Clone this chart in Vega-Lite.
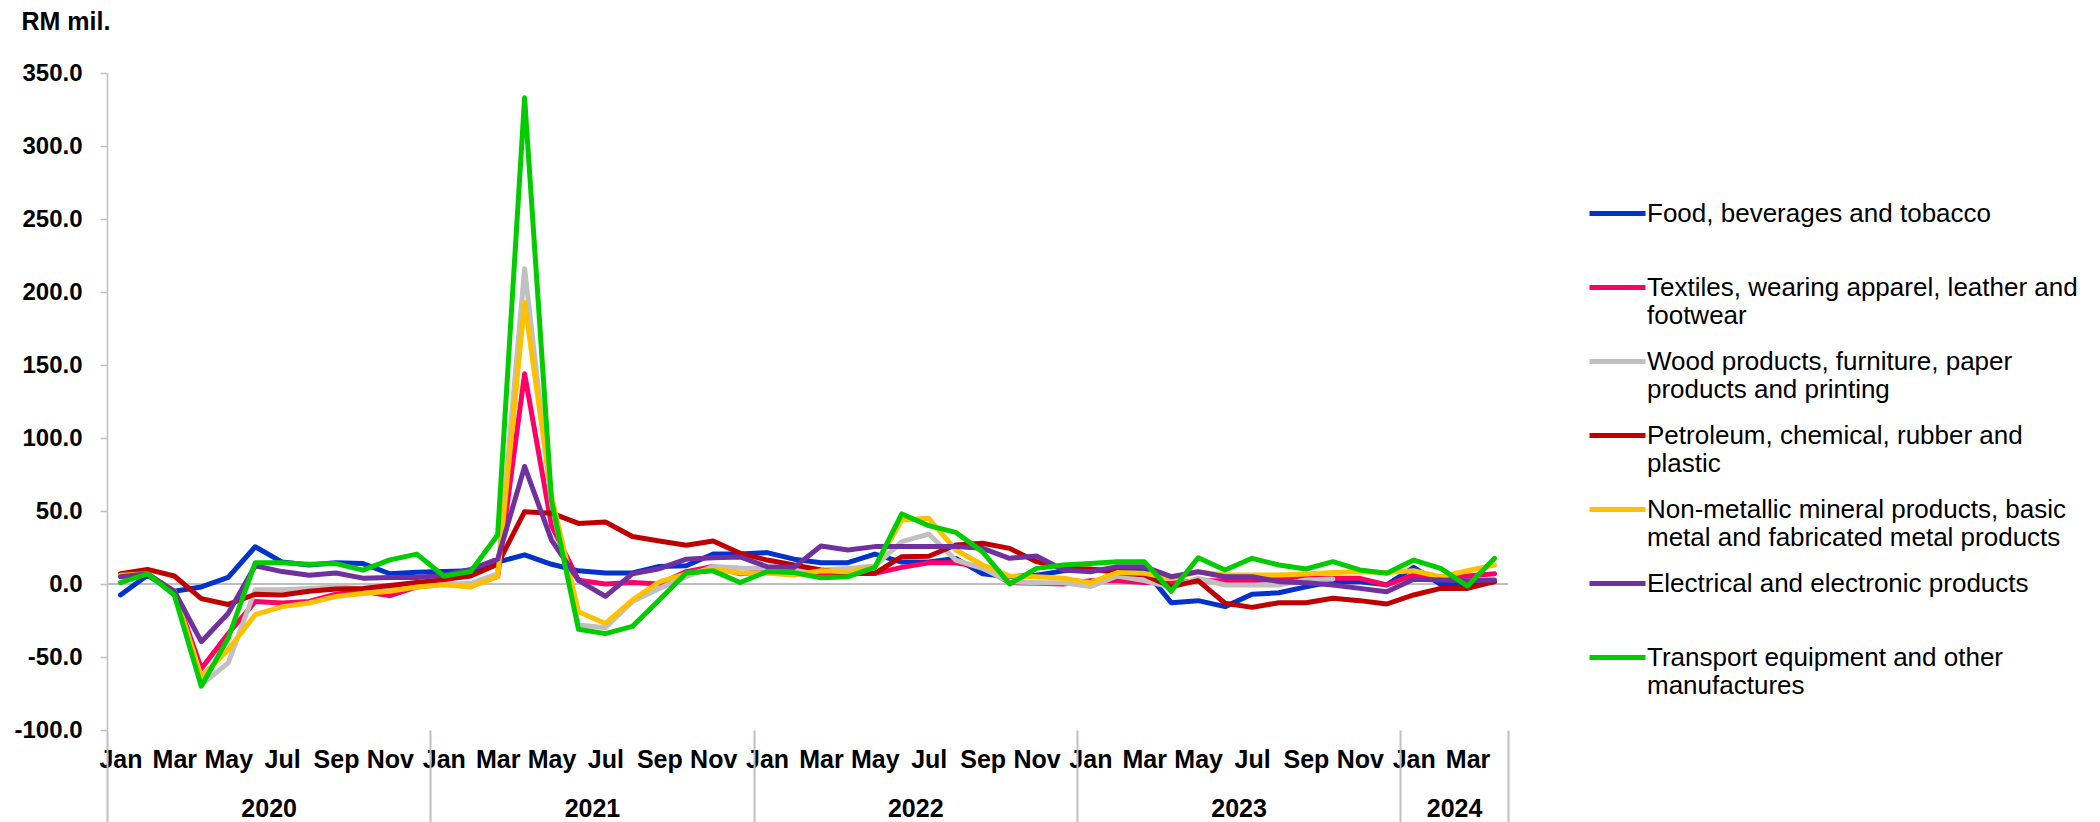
{
  "$schema": "https://vega.github.io/schema/vega-lite/v6.json",
  "width": 1401,
  "height": 657,
  "autosize": {"type": "none"},
  "padding": {"left": 107, "top": 73, "right": 592, "bottom": 92},
  "background": "white",
  "config": {"view": {"stroke": null}, "font": "Liberation Sans"},
  "datasets": {
    "series": [
      {"month":"2020-01","series":"Food, beverages and tobacco","value":-7.5},
      {"month":"2020-02","series":"Food, beverages and tobacco","value":6},
      {"month":"2020-03","series":"Food, beverages and tobacco","value":-5},
      {"month":"2020-04","series":"Food, beverages and tobacco","value":-2},
      {"month":"2020-05","series":"Food, beverages and tobacco","value":4.5},
      {"month":"2020-06","series":"Food, beverages and tobacco","value":25.5},
      {"month":"2020-07","series":"Food, beverages and tobacco","value":15},
      {"month":"2020-08","series":"Food, beverages and tobacco","value":13},
      {"month":"2020-09","series":"Food, beverages and tobacco","value":14.5},
      {"month":"2020-10","series":"Food, beverages and tobacco","value":14},
      {"month":"2020-11","series":"Food, beverages and tobacco","value":7},
      {"month":"2020-12","series":"Food, beverages and tobacco","value":8},
      {"month":"2021-01","series":"Food, beverages and tobacco","value":8.5},
      {"month":"2021-02","series":"Food, beverages and tobacco","value":9},
      {"month":"2021-03","series":"Food, beverages and tobacco","value":15},
      {"month":"2021-04","series":"Food, beverages and tobacco","value":20},
      {"month":"2021-05","series":"Food, beverages and tobacco","value":13.5},
      {"month":"2021-06","series":"Food, beverages and tobacco","value":9},
      {"month":"2021-07","series":"Food, beverages and tobacco","value":7.5},
      {"month":"2021-08","series":"Food, beverages and tobacco","value":7.5},
      {"month":"2021-09","series":"Food, beverages and tobacco","value":12},
      {"month":"2021-10","series":"Food, beverages and tobacco","value":12.5},
      {"month":"2021-11","series":"Food, beverages and tobacco","value":20.5},
      {"month":"2021-12","series":"Food, beverages and tobacco","value":20.5},
      {"month":"2022-01","series":"Food, beverages and tobacco","value":21.5},
      {"month":"2022-02","series":"Food, beverages and tobacco","value":17},
      {"month":"2022-03","series":"Food, beverages and tobacco","value":14.6},
      {"month":"2022-04","series":"Food, beverages and tobacco","value":14.6},
      {"month":"2022-05","series":"Food, beverages and tobacco","value":20.5},
      {"month":"2022-06","series":"Food, beverages and tobacco","value":15},
      {"month":"2022-07","series":"Food, beverages and tobacco","value":15},
      {"month":"2022-08","series":"Food, beverages and tobacco","value":17.5},
      {"month":"2022-09","series":"Food, beverages and tobacco","value":7},
      {"month":"2022-10","series":"Food, beverages and tobacco","value":5},
      {"month":"2022-11","series":"Food, beverages and tobacco","value":6},
      {"month":"2022-12","series":"Food, beverages and tobacco","value":9},
      {"month":"2023-01","series":"Food, beverages and tobacco","value":10},
      {"month":"2023-02","series":"Food, beverages and tobacco","value":9},
      {"month":"2023-03","series":"Food, beverages and tobacco","value":10},
      {"month":"2023-04","series":"Food, beverages and tobacco","value":-12.8},
      {"month":"2023-05","series":"Food, beverages and tobacco","value":-11.4},
      {"month":"2023-06","series":"Food, beverages and tobacco","value":-15.5},
      {"month":"2023-07","series":"Food, beverages and tobacco","value":-7},
      {"month":"2023-08","series":"Food, beverages and tobacco","value":-6},
      {"month":"2023-09","series":"Food, beverages and tobacco","value":-2},
      {"month":"2023-10","series":"Food, beverages and tobacco","value":1.6},
      {"month":"2023-11","series":"Food, beverages and tobacco","value":1.6},
      {"month":"2023-12","series":"Food, beverages and tobacco","value":-0.5},
      {"month":"2024-01","series":"Food, beverages and tobacco","value":11.4},
      {"month":"2024-02","series":"Food, beverages and tobacco","value":-0.3},
      {"month":"2024-03","series":"Food, beverages and tobacco","value":0.5},
      {"month":"2024-04","series":"Food, beverages and tobacco","value":1.6},

      {"month":"2020-01","series":"Textiles, wearing apparel, leather and footwear","value":6},
      {"month":"2020-02","series":"Textiles, wearing apparel, leather and footwear","value":7},
      {"month":"2020-03","series":"Textiles, wearing apparel, leather and footwear","value":-5},
      {"month":"2020-04","series":"Textiles, wearing apparel, leather and footwear","value":-58},
      {"month":"2020-05","series":"Textiles, wearing apparel, leather and footwear","value":-34},
      {"month":"2020-06","series":"Textiles, wearing apparel, leather and footwear","value":-12},
      {"month":"2020-07","series":"Textiles, wearing apparel, leather and footwear","value":-13},
      {"month":"2020-08","series":"Textiles, wearing apparel, leather and footwear","value":-12},
      {"month":"2020-09","series":"Textiles, wearing apparel, leather and footwear","value":-7},
      {"month":"2020-10","series":"Textiles, wearing apparel, leather and footwear","value":-5},
      {"month":"2020-11","series":"Textiles, wearing apparel, leather and footwear","value":-8},
      {"month":"2020-12","series":"Textiles, wearing apparel, leather and footwear","value":-2},
      {"month":"2021-01","series":"Textiles, wearing apparel, leather and footwear","value":0},
      {"month":"2021-02","series":"Textiles, wearing apparel, leather and footwear","value":-0.5},
      {"month":"2021-03","series":"Textiles, wearing apparel, leather and footwear","value":5},
      {"month":"2021-04","series":"Textiles, wearing apparel, leather and footwear","value":144},
      {"month":"2021-05","series":"Textiles, wearing apparel, leather and footwear","value":40},
      {"month":"2021-06","series":"Textiles, wearing apparel, leather and footwear","value":2.5},
      {"month":"2021-07","series":"Textiles, wearing apparel, leather and footwear","value":0},
      {"month":"2021-08","series":"Textiles, wearing apparel, leather and footwear","value":1},
      {"month":"2021-09","series":"Textiles, wearing apparel, leather and footwear","value":0},
      {"month":"2021-10","series":"Textiles, wearing apparel, leather and footwear","value":8.5},
      {"month":"2021-11","series":"Textiles, wearing apparel, leather and footwear","value":12},
      {"month":"2021-12","series":"Textiles, wearing apparel, leather and footwear","value":7},
      {"month":"2022-01","series":"Textiles, wearing apparel, leather and footwear","value":8.5},
      {"month":"2022-02","series":"Textiles, wearing apparel, leather and footwear","value":7.8},
      {"month":"2022-03","series":"Textiles, wearing apparel, leather and footwear","value":7.3},
      {"month":"2022-04","series":"Textiles, wearing apparel, leather and footwear","value":7},
      {"month":"2022-05","series":"Textiles, wearing apparel, leather and footwear","value":7.3},
      {"month":"2022-06","series":"Textiles, wearing apparel, leather and footwear","value":11.4},
      {"month":"2022-07","series":"Textiles, wearing apparel, leather and footwear","value":14.6},
      {"month":"2022-08","series":"Textiles, wearing apparel, leather and footwear","value":14.6},
      {"month":"2022-09","series":"Textiles, wearing apparel, leather and footwear","value":11.4},
      {"month":"2022-10","series":"Textiles, wearing apparel, leather and footwear","value":1},
      {"month":"2022-11","series":"Textiles, wearing apparel, leather and footwear","value":0.5},
      {"month":"2022-12","series":"Textiles, wearing apparel, leather and footwear","value":0},
      {"month":"2023-01","series":"Textiles, wearing apparel, leather and footwear","value":2.3},
      {"month":"2023-02","series":"Textiles, wearing apparel, leather and footwear","value":2.3},
      {"month":"2023-03","series":"Textiles, wearing apparel, leather and footwear","value":1},
      {"month":"2023-04","series":"Textiles, wearing apparel, leather and footwear","value":0.5},
      {"month":"2023-05","series":"Textiles, wearing apparel, leather and footwear","value":2.3},
      {"month":"2023-06","series":"Textiles, wearing apparel, leather and footwear","value":2.3},
      {"month":"2023-07","series":"Textiles, wearing apparel, leather and footwear","value":2.3},
      {"month":"2023-08","series":"Textiles, wearing apparel, leather and footwear","value":3.2},
      {"month":"2023-09","series":"Textiles, wearing apparel, leather and footwear","value":3.9},
      {"month":"2023-10","series":"Textiles, wearing apparel, leather and footwear","value":3.9},
      {"month":"2023-11","series":"Textiles, wearing apparel, leather and footwear","value":3.9},
      {"month":"2023-12","series":"Textiles, wearing apparel, leather and footwear","value":-0.7},
      {"month":"2024-01","series":"Textiles, wearing apparel, leather and footwear","value":6.2},
      {"month":"2024-02","series":"Textiles, wearing apparel, leather and footwear","value":3.9},
      {"month":"2024-03","series":"Textiles, wearing apparel, leather and footwear","value":5.5},
      {"month":"2024-04","series":"Textiles, wearing apparel, leather and footwear","value":7},

      {"month":"2020-01","series":"Wood products, furniture, paper products and printing","value":5.5},
      {"month":"2020-02","series":"Wood products, furniture, paper products and printing","value":7},
      {"month":"2020-03","series":"Wood products, furniture, paper products and printing","value":-5},
      {"month":"2020-04","series":"Wood products, furniture, paper products and printing","value":-69},
      {"month":"2020-05","series":"Wood products, furniture, paper products and printing","value":-54},
      {"month":"2020-06","series":"Wood products, furniture, paper products and printing","value":-4},
      {"month":"2020-07","series":"Wood products, furniture, paper products and printing","value":-4},
      {"month":"2020-08","series":"Wood products, furniture, paper products and printing","value":-3},
      {"month":"2020-09","series":"Wood products, furniture, paper products and printing","value":-2},
      {"month":"2020-10","series":"Wood products, furniture, paper products and printing","value":-3},
      {"month":"2020-11","series":"Wood products, furniture, paper products and printing","value":-2},
      {"month":"2020-12","series":"Wood products, furniture, paper products and printing","value":-1},
      {"month":"2021-01","series":"Wood products, furniture, paper products and printing","value":-0.5},
      {"month":"2021-02","series":"Wood products, furniture, paper products and printing","value":0.5},
      {"month":"2021-03","series":"Wood products, furniture, paper products and printing","value":7},
      {"month":"2021-04","series":"Wood products, furniture, paper products and printing","value":216},
      {"month":"2021-05","series":"Wood products, furniture, paper products and printing","value":55},
      {"month":"2021-06","series":"Wood products, furniture, paper products and printing","value":-28},
      {"month":"2021-07","series":"Wood products, furniture, paper products and printing","value":-30},
      {"month":"2021-08","series":"Wood products, furniture, paper products and printing","value":-12},
      {"month":"2021-09","series":"Wood products, furniture, paper products and printing","value":-3},
      {"month":"2021-10","series":"Wood products, furniture, paper products and printing","value":5},
      {"month":"2021-11","series":"Wood products, furniture, paper products and printing","value":12},
      {"month":"2021-12","series":"Wood products, furniture, paper products and printing","value":11},
      {"month":"2022-01","series":"Wood products, furniture, paper products and printing","value":10.7},
      {"month":"2022-02","series":"Wood products, furniture, paper products and printing","value":10},
      {"month":"2022-03","series":"Wood products, furniture, paper products and printing","value":9.6},
      {"month":"2022-04","series":"Wood products, furniture, paper products and printing","value":10.7},
      {"month":"2022-05","series":"Wood products, furniture, paper products and printing","value":12.3},
      {"month":"2022-06","series":"Wood products, furniture, paper products and printing","value":29},
      {"month":"2022-07","series":"Wood products, furniture, paper products and printing","value":34.2},
      {"month":"2022-08","series":"Wood products, furniture, paper products and printing","value":16.4},
      {"month":"2022-09","series":"Wood products, furniture, paper products and printing","value":10.7},
      {"month":"2022-10","series":"Wood products, furniture, paper products and printing","value":1.6},
      {"month":"2022-11","series":"Wood products, furniture, paper products and printing","value":0.9},
      {"month":"2022-12","series":"Wood products, furniture, paper products and printing","value":0.9},
      {"month":"2023-01","series":"Wood products, furniture, paper products and printing","value":-1.8},
      {"month":"2023-02","series":"Wood products, furniture, paper products and printing","value":5.5},
      {"month":"2023-03","series":"Wood products, furniture, paper products and printing","value":2.3},
      {"month":"2023-04","series":"Wood products, furniture, paper products and printing","value":-2.3},
      {"month":"2023-05","series":"Wood products, furniture, paper products and printing","value":3.9},
      {"month":"2023-06","series":"Wood products, furniture, paper products and printing","value":-0.7},
      {"month":"2023-07","series":"Wood products, furniture, paper products and printing","value":-0.7},
      {"month":"2023-08","series":"Wood products, furniture, paper products and printing","value":-0.7},
      {"month":"2023-09","series":"Wood products, furniture, paper products and printing","value":2.7},
      {"month":"2023-10","series":"Wood products, furniture, paper products and printing","value":3.4},

      {"month":"2020-01","series":"Petroleum, chemical, rubber and plastic","value":7},
      {"month":"2020-02","series":"Petroleum, chemical, rubber and plastic","value":10},
      {"month":"2020-03","series":"Petroleum, chemical, rubber and plastic","value":5.5},
      {"month":"2020-04","series":"Petroleum, chemical, rubber and plastic","value":-10},
      {"month":"2020-05","series":"Petroleum, chemical, rubber and plastic","value":-14},
      {"month":"2020-06","series":"Petroleum, chemical, rubber and plastic","value":-7},
      {"month":"2020-07","series":"Petroleum, chemical, rubber and plastic","value":-7.5},
      {"month":"2020-08","series":"Petroleum, chemical, rubber and plastic","value":-5},
      {"month":"2020-09","series":"Petroleum, chemical, rubber and plastic","value":-3.5},
      {"month":"2020-10","series":"Petroleum, chemical, rubber and plastic","value":-3},
      {"month":"2020-11","series":"Petroleum, chemical, rubber and plastic","value":-1},
      {"month":"2020-12","series":"Petroleum, chemical, rubber and plastic","value":1},
      {"month":"2021-01","series":"Petroleum, chemical, rubber and plastic","value":3},
      {"month":"2021-02","series":"Petroleum, chemical, rubber and plastic","value":5.5},
      {"month":"2021-03","series":"Petroleum, chemical, rubber and plastic","value":13.5},
      {"month":"2021-04","series":"Petroleum, chemical, rubber and plastic","value":49.5},
      {"month":"2021-05","series":"Petroleum, chemical, rubber and plastic","value":48.5},
      {"month":"2021-06","series":"Petroleum, chemical, rubber and plastic","value":41.5},
      {"month":"2021-07","series":"Petroleum, chemical, rubber and plastic","value":42.5},
      {"month":"2021-08","series":"Petroleum, chemical, rubber and plastic","value":32.5},
      {"month":"2021-09","series":"Petroleum, chemical, rubber and plastic","value":29.5},
      {"month":"2021-10","series":"Petroleum, chemical, rubber and plastic","value":26.5},
      {"month":"2021-11","series":"Petroleum, chemical, rubber and plastic","value":29.5},
      {"month":"2021-12","series":"Petroleum, chemical, rubber and plastic","value":21},
      {"month":"2022-01","series":"Petroleum, chemical, rubber and plastic","value":16.4},
      {"month":"2022-02","series":"Petroleum, chemical, rubber and plastic","value":13},
      {"month":"2022-03","series":"Petroleum, chemical, rubber and plastic","value":9.6},
      {"month":"2022-04","series":"Petroleum, chemical, rubber and plastic","value":7},
      {"month":"2022-05","series":"Petroleum, chemical, rubber and plastic","value":7.3},
      {"month":"2022-06","series":"Petroleum, chemical, rubber and plastic","value":18.7},
      {"month":"2022-07","series":"Petroleum, chemical, rubber and plastic","value":19},
      {"month":"2022-08","series":"Petroleum, chemical, rubber and plastic","value":26.7},
      {"month":"2022-09","series":"Petroleum, chemical, rubber and plastic","value":27.9},
      {"month":"2022-10","series":"Petroleum, chemical, rubber and plastic","value":24.4},
      {"month":"2022-11","series":"Petroleum, chemical, rubber and plastic","value":15.3},
      {"month":"2022-12","series":"Petroleum, chemical, rubber and plastic","value":10.7},
      {"month":"2023-01","series":"Petroleum, chemical, rubber and plastic","value":10.3},
      {"month":"2023-02","series":"Petroleum, chemical, rubber and plastic","value":7.8},
      {"month":"2023-03","series":"Petroleum, chemical, rubber and plastic","value":6.2},
      {"month":"2023-04","series":"Petroleum, chemical, rubber and plastic","value":-1.8},
      {"month":"2023-05","series":"Petroleum, chemical, rubber and plastic","value":2.3},
      {"month":"2023-06","series":"Petroleum, chemical, rubber and plastic","value":-13.2},
      {"month":"2023-07","series":"Petroleum, chemical, rubber and plastic","value":-16},
      {"month":"2023-08","series":"Petroleum, chemical, rubber and plastic","value":-12.8},
      {"month":"2023-09","series":"Petroleum, chemical, rubber and plastic","value":-12.8},
      {"month":"2023-10","series":"Petroleum, chemical, rubber and plastic","value":-9.8},
      {"month":"2023-11","series":"Petroleum, chemical, rubber and plastic","value":-11.4},
      {"month":"2023-12","series":"Petroleum, chemical, rubber and plastic","value":-13.7},
      {"month":"2024-01","series":"Petroleum, chemical, rubber and plastic","value":-7.5},
      {"month":"2024-02","series":"Petroleum, chemical, rubber and plastic","value":-3},
      {"month":"2024-03","series":"Petroleum, chemical, rubber and plastic","value":-3},
      {"month":"2024-04","series":"Petroleum, chemical, rubber and plastic","value":1.6},

      {"month":"2020-01","series":"Non-metallic mineral products, basic metal and fabricated metal products","value":6},
      {"month":"2020-02","series":"Non-metallic mineral products, basic metal and fabricated metal products","value":7},
      {"month":"2020-03","series":"Non-metallic mineral products, basic metal and fabricated metal products","value":-5},
      {"month":"2020-04","series":"Non-metallic mineral products, basic metal and fabricated metal products","value":-63.5},
      {"month":"2020-05","series":"Non-metallic mineral products, basic metal and fabricated metal products","value":-45},
      {"month":"2020-06","series":"Non-metallic mineral products, basic metal and fabricated metal products","value":-21},
      {"month":"2020-07","series":"Non-metallic mineral products, basic metal and fabricated metal products","value":-15.5},
      {"month":"2020-08","series":"Non-metallic mineral products, basic metal and fabricated metal products","value":-13},
      {"month":"2020-09","series":"Non-metallic mineral products, basic metal and fabricated metal products","value":-8.5},
      {"month":"2020-10","series":"Non-metallic mineral products, basic metal and fabricated metal products","value":-6.5},
      {"month":"2020-11","series":"Non-metallic mineral products, basic metal and fabricated metal products","value":-5},
      {"month":"2020-12","series":"Non-metallic mineral products, basic metal and fabricated metal products","value":-2},
      {"month":"2021-01","series":"Non-metallic mineral products, basic metal and fabricated metal products","value":-0.5},
      {"month":"2021-02","series":"Non-metallic mineral products, basic metal and fabricated metal products","value":-2},
      {"month":"2021-03","series":"Non-metallic mineral products, basic metal and fabricated metal products","value":5},
      {"month":"2021-04","series":"Non-metallic mineral products, basic metal and fabricated metal products","value":193},
      {"month":"2021-05","series":"Non-metallic mineral products, basic metal and fabricated metal products","value":60},
      {"month":"2021-06","series":"Non-metallic mineral products, basic metal and fabricated metal products","value":-19},
      {"month":"2021-07","series":"Non-metallic mineral products, basic metal and fabricated metal products","value":-27},
      {"month":"2021-08","series":"Non-metallic mineral products, basic metal and fabricated metal products","value":-11},
      {"month":"2021-09","series":"Non-metallic mineral products, basic metal and fabricated metal products","value":1.5},
      {"month":"2021-10","series":"Non-metallic mineral products, basic metal and fabricated metal products","value":7},
      {"month":"2021-11","series":"Non-metallic mineral products, basic metal and fabricated metal products","value":10},
      {"month":"2021-12","series":"Non-metallic mineral products, basic metal and fabricated metal products","value":7.5},
      {"month":"2022-01","series":"Non-metallic mineral products, basic metal and fabricated metal products","value":7.3},
      {"month":"2022-02","series":"Non-metallic mineral products, basic metal and fabricated metal products","value":6.2},
      {"month":"2022-03","series":"Non-metallic mineral products, basic metal and fabricated metal products","value":9.1},
      {"month":"2022-04","series":"Non-metallic mineral products, basic metal and fabricated metal products","value":8.4},
      {"month":"2022-05","series":"Non-metallic mineral products, basic metal and fabricated metal products","value":11.4},
      {"month":"2022-06","series":"Non-metallic mineral products, basic metal and fabricated metal products","value":43.8},
      {"month":"2022-07","series":"Non-metallic mineral products, basic metal and fabricated metal products","value":45},
      {"month":"2022-08","series":"Non-metallic mineral products, basic metal and fabricated metal products","value":23.3},
      {"month":"2022-09","series":"Non-metallic mineral products, basic metal and fabricated metal products","value":13},
      {"month":"2022-10","series":"Non-metallic mineral products, basic metal and fabricated metal products","value":5.5},
      {"month":"2022-11","series":"Non-metallic mineral products, basic metal and fabricated metal products","value":5},
      {"month":"2022-12","series":"Non-metallic mineral products, basic metal and fabricated metal products","value":3.9},
      {"month":"2023-01","series":"Non-metallic mineral products, basic metal and fabricated metal products","value":0.9},
      {"month":"2023-02","series":"Non-metallic mineral products, basic metal and fabricated metal products","value":7.8},
      {"month":"2023-03","series":"Non-metallic mineral products, basic metal and fabricated metal products","value":7.3},
      {"month":"2023-04","series":"Non-metallic mineral products, basic metal and fabricated metal products","value":3.9},
      {"month":"2023-05","series":"Non-metallic mineral products, basic metal and fabricated metal products","value":8.4},
      {"month":"2023-06","series":"Non-metallic mineral products, basic metal and fabricated metal products","value":6.2},
      {"month":"2023-07","series":"Non-metallic mineral products, basic metal and fabricated metal products","value":6.2},
      {"month":"2023-08","series":"Non-metallic mineral products, basic metal and fabricated metal products","value":6.2},
      {"month":"2023-09","series":"Non-metallic mineral products, basic metal and fabricated metal products","value":6.8},
      {"month":"2023-10","series":"Non-metallic mineral products, basic metal and fabricated metal products","value":7.8},
      {"month":"2023-11","series":"Non-metallic mineral products, basic metal and fabricated metal products","value":8.4},
      {"month":"2023-12","series":"Non-metallic mineral products, basic metal and fabricated metal products","value":7.8},
      {"month":"2024-01","series":"Non-metallic mineral products, basic metal and fabricated metal products","value":9.1},
      {"month":"2024-02","series":"Non-metallic mineral products, basic metal and fabricated metal products","value":5},
      {"month":"2024-03","series":"Non-metallic mineral products, basic metal and fabricated metal products","value":9.1},
      {"month":"2024-04","series":"Non-metallic mineral products, basic metal and fabricated metal products","value":13},

      {"month":"2020-01","series":"Electrical and electronic products","value":5},
      {"month":"2020-02","series":"Electrical and electronic products","value":7},
      {"month":"2020-03","series":"Electrical and electronic products","value":-5},
      {"month":"2020-04","series":"Electrical and electronic products","value":-39.5},
      {"month":"2020-05","series":"Electrical and electronic products","value":-20},
      {"month":"2020-06","series":"Electrical and electronic products","value":12.5},
      {"month":"2020-07","series":"Electrical and electronic products","value":8.5},
      {"month":"2020-08","series":"Electrical and electronic products","value":6},
      {"month":"2020-09","series":"Electrical and electronic products","value":7.5},
      {"month":"2020-10","series":"Electrical and electronic products","value":4},
      {"month":"2020-11","series":"Electrical and electronic products","value":4.5},
      {"month":"2020-12","series":"Electrical and electronic products","value":4.5},
      {"month":"2021-01","series":"Electrical and electronic products","value":6},
      {"month":"2021-02","series":"Electrical and electronic products","value":10},
      {"month":"2021-03","series":"Electrical and electronic products","value":17},
      {"month":"2021-04","series":"Electrical and electronic products","value":80.5},
      {"month":"2021-05","series":"Electrical and electronic products","value":30},
      {"month":"2021-06","series":"Electrical and electronic products","value":2.5},
      {"month":"2021-07","series":"Electrical and electronic products","value":-8.5},
      {"month":"2021-08","series":"Electrical and electronic products","value":7},
      {"month":"2021-09","series":"Electrical and electronic products","value":10.5},
      {"month":"2021-10","series":"Electrical and electronic products","value":17},
      {"month":"2021-11","series":"Electrical and electronic products","value":18},
      {"month":"2021-12","series":"Electrical and electronic products","value":18.5},
      {"month":"2022-01","series":"Electrical and electronic products","value":11.9},
      {"month":"2022-02","series":"Electrical and electronic products","value":11.4},
      {"month":"2022-03","series":"Electrical and electronic products","value":26},
      {"month":"2022-04","series":"Electrical and electronic products","value":23.3},
      {"month":"2022-05","series":"Electrical and electronic products","value":25.6},
      {"month":"2022-06","series":"Electrical and electronic products","value":25.6},
      {"month":"2022-07","series":"Electrical and electronic products","value":25.6},
      {"month":"2022-08","series":"Electrical and electronic products","value":25.6},
      {"month":"2022-09","series":"Electrical and electronic products","value":24.4},
      {"month":"2022-10","series":"Electrical and electronic products","value":17.6},
      {"month":"2022-11","series":"Electrical and electronic products","value":19.2},
      {"month":"2022-12","series":"Electrical and electronic products","value":9.6},
      {"month":"2023-01","series":"Electrical and electronic products","value":8.4},
      {"month":"2023-02","series":"Electrical and electronic products","value":11.9},
      {"month":"2023-03","series":"Electrical and electronic products","value":11.9},
      {"month":"2023-04","series":"Electrical and electronic products","value":5},
      {"month":"2023-05","series":"Electrical and electronic products","value":8.4},
      {"month":"2023-06","series":"Electrical and electronic products","value":5},
      {"month":"2023-07","series":"Electrical and electronic products","value":5},
      {"month":"2023-08","series":"Electrical and electronic products","value":1.6},
      {"month":"2023-09","series":"Electrical and electronic products","value":0.9},
      {"month":"2023-10","series":"Electrical and electronic products","value":-0.7},
      {"month":"2023-11","series":"Electrical and electronic products","value":-3},
      {"month":"2023-12","series":"Electrical and electronic products","value":-5.3},
      {"month":"2024-01","series":"Electrical and electronic products","value":3.2},
      {"month":"2024-02","series":"Electrical and electronic products","value":2.7},
      {"month":"2024-03","series":"Electrical and electronic products","value":2.3},
      {"month":"2024-04","series":"Electrical and electronic products","value":2.7},

      {"month":"2020-01","series":"Transport equipment and other manufactures","value":1},
      {"month":"2020-02","series":"Transport equipment and other manufactures","value":7},
      {"month":"2020-03","series":"Transport equipment and other manufactures","value":-7.5},
      {"month":"2020-04","series":"Transport equipment and other manufactures","value":-70},
      {"month":"2020-05","series":"Transport equipment and other manufactures","value":-37},
      {"month":"2020-06","series":"Transport equipment and other manufactures","value":14.5},
      {"month":"2020-07","series":"Transport equipment and other manufactures","value":14.5},
      {"month":"2020-08","series":"Transport equipment and other manufactures","value":13.5},
      {"month":"2020-09","series":"Transport equipment and other manufactures","value":14},
      {"month":"2020-10","series":"Transport equipment and other manufactures","value":9.5},
      {"month":"2020-11","series":"Transport equipment and other manufactures","value":16.5},
      {"month":"2020-12","series":"Transport equipment and other manufactures","value":20.5},
      {"month":"2021-01","series":"Transport equipment and other manufactures","value":5.5},
      {"month":"2021-02","series":"Transport equipment and other manufactures","value":8.5},
      {"month":"2021-03","series":"Transport equipment and other manufactures","value":33.5},
      {"month":"2021-04","series":"Transport equipment and other manufactures","value":333},
      {"month":"2021-05","series":"Transport equipment and other manufactures","value":57},
      {"month":"2021-06","series":"Transport equipment and other manufactures","value":-31},
      {"month":"2021-07","series":"Transport equipment and other manufactures","value":-34},
      {"month":"2021-08","series":"Transport equipment and other manufactures","value":-29},
      {"month":"2021-09","series":"Transport equipment and other manufactures","value":-11},
      {"month":"2021-10","series":"Transport equipment and other manufactures","value":7.5},
      {"month":"2021-11","series":"Transport equipment and other manufactures","value":9},
      {"month":"2021-12","series":"Transport equipment and other manufactures","value":1},
      {"month":"2022-01","series":"Transport equipment and other manufactures","value":8.5},
      {"month":"2022-02","series":"Transport equipment and other manufactures","value":7.8},
      {"month":"2022-03","series":"Transport equipment and other manufactures","value":4.3},
      {"month":"2022-04","series":"Transport equipment and other manufactures","value":5},
      {"month":"2022-05","series":"Transport equipment and other manufactures","value":11.4},
      {"month":"2022-06","series":"Transport equipment and other manufactures","value":48},
      {"month":"2022-07","series":"Transport equipment and other manufactures","value":40},
      {"month":"2022-08","series":"Transport equipment and other manufactures","value":35.4},
      {"month":"2022-09","series":"Transport equipment and other manufactures","value":22},
      {"month":"2022-10","series":"Transport equipment and other manufactures","value":0},
      {"month":"2022-11","series":"Transport equipment and other manufactures","value":10.7},
      {"month":"2022-12","series":"Transport equipment and other manufactures","value":13},
      {"month":"2023-01","series":"Transport equipment and other manufactures","value":14},
      {"month":"2023-02","series":"Transport equipment and other manufactures","value":15.3},
      {"month":"2023-03","series":"Transport equipment and other manufactures","value":15.3},
      {"month":"2023-04","series":"Transport equipment and other manufactures","value":-5},
      {"month":"2023-05","series":"Transport equipment and other manufactures","value":18},
      {"month":"2023-06","series":"Transport equipment and other manufactures","value":9.6},
      {"month":"2023-07","series":"Transport equipment and other manufactures","value":17.6},
      {"month":"2023-08","series":"Transport equipment and other manufactures","value":13},
      {"month":"2023-09","series":"Transport equipment and other manufactures","value":10.3},
      {"month":"2023-10","series":"Transport equipment and other manufactures","value":15.3},
      {"month":"2023-11","series":"Transport equipment and other manufactures","value":9.6},
      {"month":"2023-12","series":"Transport equipment and other manufactures","value":7.3},
      {"month":"2024-01","series":"Transport equipment and other manufactures","value":16.4},
      {"month":"2024-02","series":"Transport equipment and other manufactures","value":10.7},
      {"month":"2024-03","series":"Transport equipment and other manufactures","value":-1.4},
      {"month":"2024-04","series":"Transport equipment and other manufactures","value":17.6}
    ],
    "years": [
      {"year":"2020","start":0,"end":12},
      {"year":"2021","start":12,"end":24},
      {"year":"2022","start":24,"end":36},
      {"year":"2023","start":36,"end":48},
      {"year":"2024","start":48,"end":52}
    ]
  },
  "layer": [
    {
      "data": {"name": "series"},
      "mark": {"type": "rule", "color": "#BFBFBF", "strokeWidth": 2},
      "encoding": {
        "y": {"datum": 0, "type": "quantitative", "scale": {"domain": [-100, 350], "nice": false, "zero": false}}
      }
    },
    {
      "data": {"name": "series"},
      "mark": {"type": "line", "strokeWidth": 5, "strokeCap": "round", "strokeJoin": "round"},
      "encoding": {
        "x": {
          "field": "month", "type": "ordinal",
          "scale": {"type": "point", "padding": 0.5},
          "axis": {
            "title": null,
            "values": ["2020-01","2020-03","2020-05","2020-07","2020-09","2020-11","2021-01","2021-03","2021-05","2021-07","2021-09","2021-11","2022-01","2022-03","2022-05","2022-07","2022-09","2022-11","2023-01","2023-03","2023-05","2023-07","2023-09","2023-11","2024-01","2024-03"],
            "labelExpr": "['Jan','Feb','Mar','Apr','May','Jun','Jul','Aug','Sep','Oct','Nov','Dec'][toNumber(substring(datum.value,5,7))-1]",
            "ticks": false, "domain": false, "grid": false,
            "labelAngle": 0, "labelFontSize": 25, "labelFontWeight": "bold", "labelColor": "#000000",
            "labelPadding": 17, "labelOverlap": false, "labelFlush": false, "orient": "bottom"
          }
        },
        "y": {
          "field": "value", "type": "quantitative",
          "scale": {"domain": [-100, 350], "nice": false, "zero": false},
          "axis": {
            "title": "RM mil.", "titleAngle": 0, "titleAlign": "left", "titleBaseline": "alphabetic",
            "titleX": -86, "titleY": -44, "titleFontSize": 25, "titleFontWeight": "bold", "titleColor": "#000000",
            "values": [-100, -50, 0, 50, 100, 150, 200, 250, 300, 350],
            "labelExpr": "replace(format(datum.value, '.1f'), '\u2212', '-')",
            "labelFontSize": 24, "labelFontWeight": "bold", "labelColor": "#000000", "labelPadding": 18,
            "tickSize": 7, "tickColor": "#BFBFBF", "tickWidth": 1.5,
            "domainColor": "#BFBFBF", "domainWidth": 1.5, "grid": false
          }
        },
        "color": {
          "field": "series", "type": "nominal",
          "scale": {
            "domain": ["Food, beverages and tobacco", "Textiles, wearing apparel, leather and footwear", "Wood products, furniture, paper products and printing", "Petroleum, chemical, rubber and plastic", "Non-metallic mineral products, basic metal and fabricated metal products", "Electrical and electronic products", "Transport equipment and other manufactures"],
            "range": ["#0033CC", "#FF0066", "#C0C0C0", "#C00000", "#FFC000", "#7030A0", "#00CC00"]
          },
          "legend": {
            "title": null, "orient": "none", "legendX": 1480, "legendY": 110,
            "symbolType": "stroke", "symbolSize": 3136, "symbolStrokeWidth": 5,
            "labelFontSize": 26, "labelColor": "#000000", "labelLimit": 700, "labelOffset": -1,
            "rowPadding": 2, "gridAlign": "all", "padding": 0,
            "labelExpr": "datum.label == 'Textiles, wearing apparel, leather and footwear' ? ['Textiles, wearing apparel, leather and', 'footwear'] : datum.label == 'Wood products, furniture, paper products and printing' ? ['Wood products, furniture, paper', 'products and printing'] : datum.label == 'Petroleum, chemical, rubber and plastic' ? ['Petroleum, chemical, rubber and', 'plastic'] : datum.label == 'Non-metallic mineral products, basic metal and fabricated metal products' ? ['Non-metallic mineral products, basic', 'metal and fabricated metal products'] : datum.label == 'Transport equipment and other manufactures' ? ['Transport equipment and other', 'manufactures'] : datum.label"
          }
        }
      }
    },
    {
      "data": {"name": "years"},
      "mark": {"type": "rule", "opacity": 0},
      "encoding": {
        "x": {
          "field": "start", "type": "quantitative",
          "scale": {"domain": [0, 52], "nice": false, "zero": false},
          "axis": {
            "title": null, "orient": "bottom",
            "values": [6, 18, 30, 42, 50],
            "labelExpr": "datum.value == 6 ? '2020' : datum.value == 18 ? '2021' : datum.value == 30 ? '2022' : datum.value == 42 ? '2023' : '2024'",
            "ticks": false, "domain": false, "grid": false,
            "labelFontSize": 25, "labelFontWeight": "bold", "labelColor": "#000000",
            "labelPadding": 66, "labelOverlap": false, "labelFlush": false
          }
        }
      }
    },
    {
      "data": {"name": "years"},
      "mark": {"type": "rule", "opacity": 0},
      "encoding": {
        "x": {
          "field": "end", "type": "quantitative",
          "scale": {"domain": [0, 52], "nice": false, "zero": false},
          "axis": {
            "title": null, "orient": "bottom",
            "values": [0, 12, 24, 36, 48, 52],
            "labels": false, "domain": false, "grid": false,
            "ticks": true, "tickSize": 92, "tickColor": "#BFBFBF", "tickWidth": 2
          }
        }
      }
    }
  ],
  "resolve": {"scale": {"x": "independent"}, "axis": {"x": "independent"}}
}
